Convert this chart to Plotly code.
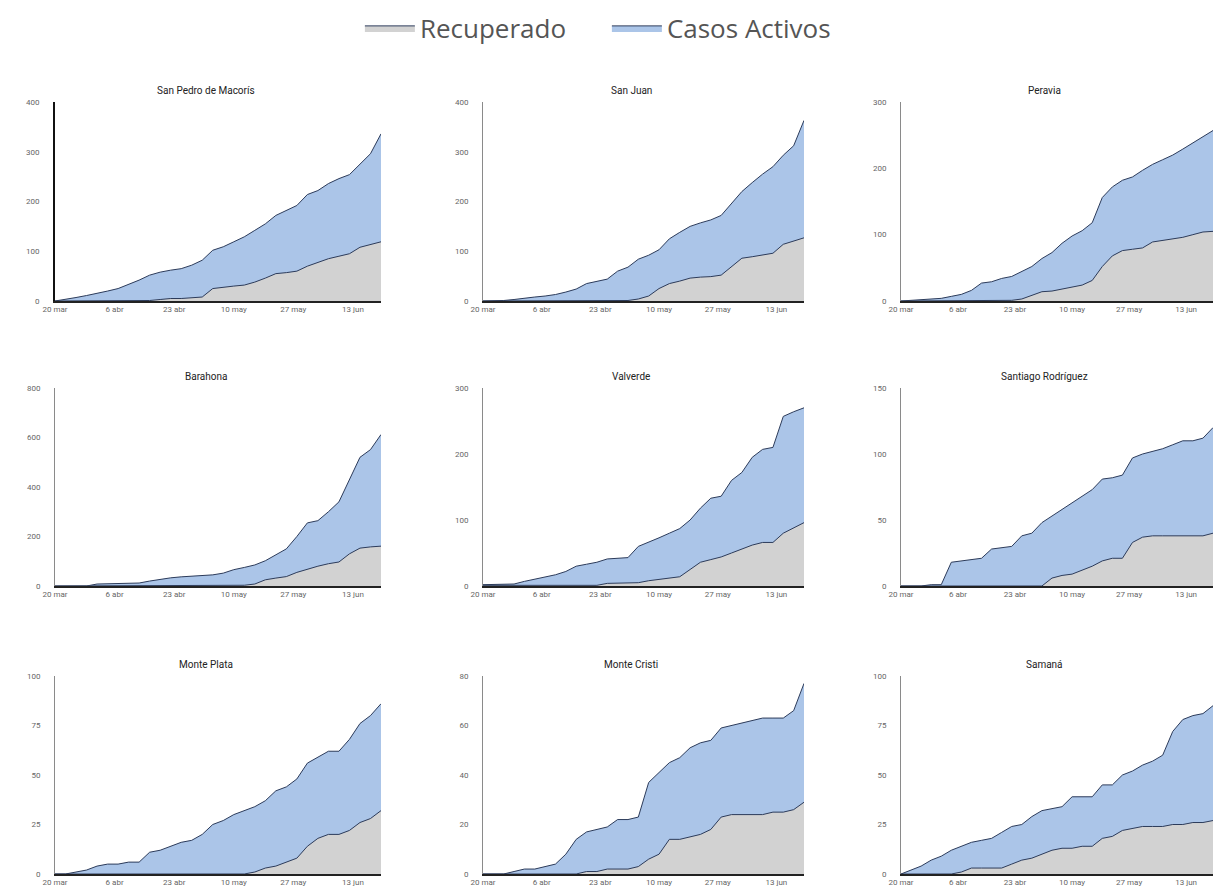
import datetime as dt
import plotly.graph_objects as go

# ---- data (every 3 days from 20 mar) ----
start = dt.date(2020, 3, 20)
dates = [start + dt.timedelta(days=3 * i) for i in range(32)]

provinces = ["San Pedro de Macorís", "San Juan", "Peravia",
             "Barahona", "Valverde", "Santiago Rodríguez",
             "Monte Plata", "Monte Cristi", "Samaná"]

# upper edge of blue area (recuperados + activos)
casos_san_pedro = [0, 3, 7, 11, 15, 20, 25, 33, 42, 52, 58, 62, 65, 72, 82, 102, 109, 119, 129, 142, 155, 172, 182, 192, 214, 222, 236, 246, 254, 276, 296, 336]
casos_san_juan = [0, 0, 1, 3, 6, 8, 10, 13, 18, 24, 35, 39, 44, 60, 68, 84, 92, 103, 125, 138, 150, 157, 163, 172, 195, 220, 238, 255, 270, 293, 312, 363]
casos_peravia = [0, 1, 2, 3, 4, 7, 10, 16, 27, 29, 34, 37, 44, 52, 64, 73, 87, 98, 106, 118, 156, 172, 182, 187, 197, 206, 213, 220, 229, 238, 247, 257]
casos_barahona = [0, 0, 0, 0, 8, 9, 10, 10, 12, 20, 28, 33, 37, 39, 42, 45, 52, 66, 75, 85, 102, 127, 150, 200, 255, 264, 300, 340, 430, 520, 551, 612]
casos_valverde = [2, 2, 3, 3, 7, 10, 13, 17, 22, 30, 33, 36, 41, 42, 43, 60, 66, 73, 80, 87, 100, 118, 133, 136, 160, 172, 195, 207, 210, 257, 264, 270]
casos_santiago_rod = [0, 0, 0, 1, 1, 18, 19, 20, 21, 28, 29, 30, 38, 40, 48, 53, 58, 63, 68, 73, 81, 82, 84, 97, 100, 102, 104, 107, 110, 110, 112, 120]
casos_monte_plata = [0, 0, 1, 2, 4, 5, 5, 6, 6, 11, 12, 14, 16, 17, 20, 25, 27, 30, 32, 34, 37, 42, 44, 48, 56, 59, 62, 62, 68, 76, 80, 86]
casos_monte_cristi = [0, 0, 0, 1, 2, 2, 3, 4, 8, 14, 17, 18, 19, 22, 22, 23, 37, 41, 45, 47, 51, 53, 54, 59, 60, 61, 62, 63, 63, 63, 66, 77]
casos_samana = [0, 2, 4, 7, 9, 12, 14, 16, 17, 18, 21, 24, 25, 29, 32, 33, 34, 39, 39, 39, 45, 45, 50, 52, 55, 57, 60, 72, 78, 80, 81, 85]

recup_san_pedro = [0, 0, 0, 0, 0, 0, 0, 0, 0, 1, 3, 5, 5, 7, 8, 25, 28, 30, 32, 38, 46, 55, 57, 60, 70, 78, 85, 90, 95, 108, 113, 119]
recup_san_juan = [0, 0, 0, 0, 0, 0, 0, 0, 0, 0, 0, 0, 0, 0, 1, 4, 10, 25, 35, 40, 46, 48, 49, 52, 70, 86, 89, 93, 96, 114, 120, 127]
recup_peravia = [0, 0, 0, 0, 0, 0, 0, 0, 0, 0, 0, 1, 3, 8, 14, 15, 18, 21, 24, 31, 52, 68, 76, 78, 80, 89, 91, 93, 96, 100, 104, 105]
recup_barahona = [0, 0, 0, 0, 0, 0, 0, 0, 0, 0, 0, 0, 1, 1, 2, 2, 2, 3, 3, 8, 25, 32, 38, 55, 68, 80, 90, 97, 130, 153, 158, 161]
recup_valverde = [1, 1, 1, 1, 1, 1, 1, 1, 1, 1, 1, 1, 4, 4, 5, 5, 8, 10, 12, 14, 25, 36, 40, 44, 50, 56, 62, 66, 66, 80, 88, 96]
recup_santiago_rod = [0, 0, 0, 0, 0, 0, 0, 0, 0, 0, 0, 0, 0, 0, 0, 6, 8, 9, 12, 15, 19, 21, 21, 33, 37, 38, 38, 38, 38, 38, 38, 40]
recup_monte_plata = [0, 0, 0, 0, 0, 0, 0, 0, 0, 0, 0, 0, 0, 0, 0, 0, 0, 0, 0, 1, 3, 4, 6, 8, 14, 18, 20, 20, 22, 26, 28, 32]
recup_monte_cristi = [0, 0, 0, 0, 0, 0, 0, 0, 0, 0, 1, 1, 2, 2, 2, 3, 6, 8, 14, 14, 15, 16, 18, 23, 24, 24, 24, 24, 25, 25, 26, 29]
recup_samana = [0, 0, 0, 0, 0, 0, 1, 3, 3, 3, 3, 5, 7, 8, 10, 12, 13, 13, 14, 14, 18, 19, 22, 23, 24, 24, 24, 25, 25, 26, 26, 27]

casos = [casos_san_pedro, casos_san_juan, casos_peravia,
         casos_barahona, casos_valverde, casos_santiago_rod,
         casos_monte_plata, casos_monte_cristi, casos_samana]
recup = [recup_san_pedro, recup_san_juan, recup_peravia,
         recup_barahona, recup_valverde, recup_santiago_rod,
         recup_monte_plata, recup_monte_cristi, recup_samana]

y_ticks = [[0, 100, 200, 300, 400], [0, 100, 200, 300, 400], [0, 100, 200, 300],
           [0, 200, 400, 600, 800], [0, 100, 200, 300], [0, 50, 100, 150],
           [0, 25, 50, 75, 100], [0, 20, 40, 60, 80], [0, 25, 50, 75, 100]]

x_tick_dates = [dt.date(2020, 3, 20), dt.date(2020, 4, 6), dt.date(2020, 4, 23),
                dt.date(2020, 5, 10), dt.date(2020, 5, 27), dt.date(2020, 6, 13)]
x_tick_text = ["20 mar", "6 abr", "23 abr", "10 may", "27 may", "13 jun"]

# ---- layout geometry (screen pixels; page body has an 8px margin) ----
OFF = 8
W, H = 1221 - 2 * OFF, 894 - 2 * OFF
cols_px = [(55, 381), (483, 804), (901, 1213)]
rows_px = [(102, 301), (388, 586), (676, 874)]

BLUE = "#abc5e8"
GRAY = "#d2d2d2"
EDGE = "#2c3b5a"

fig = go.Figure()
annotations = []
layout_axes = {}

for i, name in enumerate(provinces):
    r, c = divmod(i, 3)
    x0, x1 = cols_px[c]
    yt, yb = rows_px[r]
    xd = [max(0.0, (x0 - OFF) / W), min(1.0, (x1 - OFF) / W)]
    yd = [max(0.0, 1 - (yb - OFF) / H), min(1.0, 1 - (yt - OFF) / H)]
    suffix = "" if i == 0 else str(i + 1)
    xa, ya = "x" + suffix, "y" + suffix

    fig.add_trace(go.Scatter(
        x=dates, y=casos[i], name="Casos Activos", mode="lines",
        fill="tozeroy", fillcolor=BLUE, line=dict(color=EDGE, width=1),
        xaxis=xa, yaxis=ya, showlegend=(i == 0), legendrank=2,
        legendgroup="act"))
    fig.add_trace(go.Scatter(
        x=dates, y=recup[i], name="Recuperado", mode="lines",
        fill="tozeroy", fillcolor=GRAY, line=dict(color=EDGE, width=1),
        xaxis=xa, yaxis=ya, showlegend=(i == 0), legendrank=1,
        legendgroup="rec"))

    first = (i == 0)
    layout_axes["xaxis" + suffix] = dict(
        domain=xd, anchor=ya, range=[dates[0], dates[-1]],
        tickvals=x_tick_dates, ticktext=x_tick_text,
        showgrid=False, zeroline=False, showline=True, automargin=False,
        linecolor="#222222", linewidth=1.5, ticks="",
        tickfont=dict(size=8, color="#666666", family="Roboto"),
        fixedrange=True)
    layout_axes["yaxis" + suffix] = dict(
        domain=yd, anchor=xa, range=[0, y_ticks[i][-1]],
        tickvals=y_ticks[i], showgrid=False, zeroline=False, showline=True,
        automargin=False, ticklabelstandoff=12,
        linecolor="#111111" if first else "#8a8a8a",
        linewidth=2 if first else 1, ticks="",
        tickfont=dict(size=8, color="#666666", family="Roboto"),
        fixedrange=True)

    annotations.append(dict(
        text=name, x=(xd[0] + xd[1]) / 2 - 0.01, y=yd[1] + 0.004,
        xref="paper", yref="paper", xanchor="center", yanchor="bottom",
        showarrow=False, font=dict(size=10, color="#222222", family="Roboto")))

fig.update_layout(
    width=W, height=H,
    paper_bgcolor="white", plot_bgcolor="white",
    margin=dict(l=0, r=0, t=0, b=0, autoexpand=False),
    annotations=annotations,
    legend=dict(orientation="h", x=0.497, xanchor="center", y=1.004, yanchor="top",
                font=dict(size=26, color="#555555", family="Open Sans"),
                itemwidth=50, entrywidth=182, traceorder="normal"),
    **layout_axes)

fig.write_html("out.html")
